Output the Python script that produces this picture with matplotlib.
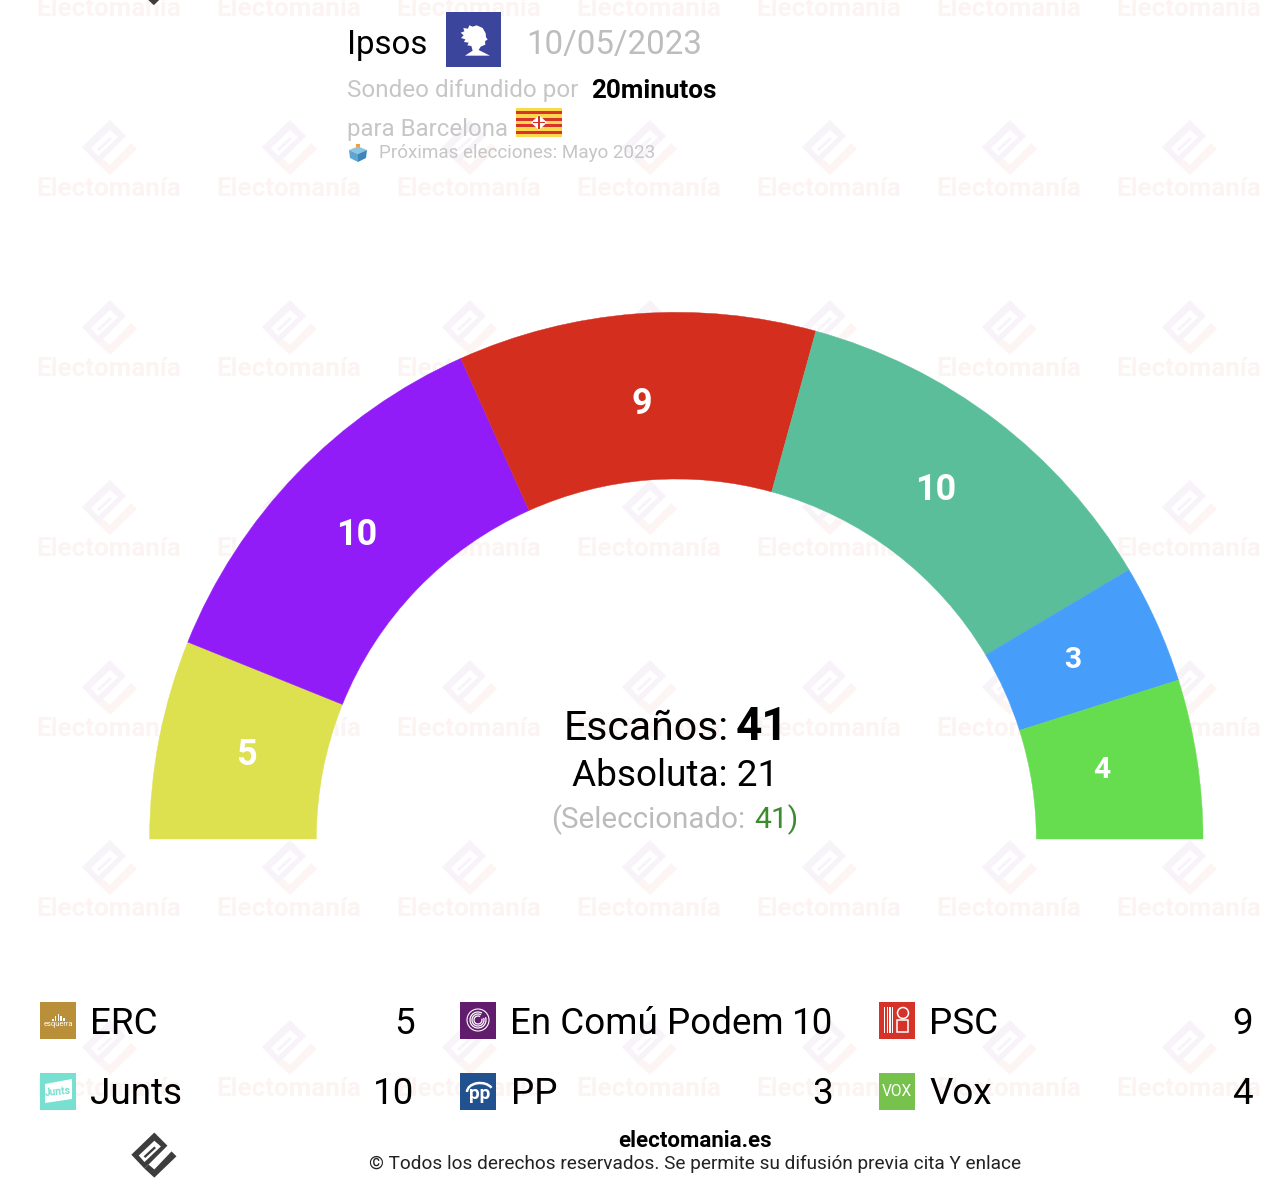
import numpy as np
import matplotlib
matplotlib.use('Agg')
import matplotlib.pyplot as plt
from matplotlib.patches import Wedge, Rectangle, Polygon, Circle, Ellipse, Arc

plt.rcParams['font.family'] = ['Roboto', 'DejaVu Sans']

# Datos del sondeo
parties = ['ERC', 'En Comú Podem', 'PSC', 'Junts', 'PP', 'Vox']
seats = [5, 10, 9, 10, 3, 4]
arc_colors = ['#DDE04F', '#911CF8', '#D42E1F', '#5ABE9A', '#479DFA', '#66DD4F']
icon_colors = ['#B98F3A', '#621C6E', '#D5332A', '#77E0D0', '#21518F', '#77C14D']
total_seats = 41
majority = 21
selected = 41
pollster = 'Ipsos'
poll_date = '10/05/2023'

W, H = 1288, 1190
CX, CY = 676.3, 839
R_OUT, R_IN = 526.7, 360

# popravki polozaja oznak v pikslih
LABEL_NUDGE = [(0, 0), (-3, -1), (3, 0), (0, -2), (4, 1), (0, 0)]

LOGO_BODY = [(1, -28), (17, -12), (-11, 16), (-27, -1)]
LOGO_HOLE = [(1, -18), (9, -11), (-11, 8), (-18, 0)]
LOGO_SLOT = [(1, -11), (3, -9), (-10, 3), (-12, 1)]
LOGO_CHECK = [(22, -5), (28, 1), (1, 27), (-11, 16), (-6, 11), (1, 17)]

HEAD = [(440, 76), (458, 84), (467, 100), (468, 112), (473, 118), (465, 124), (466, 134), (452, 140),
        (446, 150), (480, 167), (405, 167), (428, 152), (424, 138), (412, 136), (416, 128), (402, 126),
        (406, 118), (393, 114), (401, 106), (392, 98), (403, 94), (400, 84), (414, 86), (418, 76), (428, 80)]


def fs(px):
    # velikost pisave iz pikslov v pt
    return px * 0.72


def draw_logo(ax, x, y, scale, body, check, hole='white', z=1):
    pts = lambda p: [(x + a * scale, y + b * scale) for a, b in p]
    ax.add_patch(Polygon(pts(LOGO_BODY), fc=body, ec='none', zorder=z))
    ax.add_patch(Polygon(pts(LOGO_HOLE), fc=hole, ec='none', zorder=z))
    ax.add_patch(Polygon(pts(LOGO_SLOT), fc=body, ec='none', zorder=z))
    ax.add_patch(Polygon(pts(LOGO_CHECK), fc=check, ec='none', zorder=z))


def draw_watermark(ax):
    for i in range(7):
        dx = 180 * i
        for j in range(7):
            dy = 180 * j
            draw_logo(ax, 109 + dx, -32 + dy, 1, '#F7F3F9', '#FCF5F3')
            ax.text(109 + dx, 16 + dy, 'Electomanía', fontsize=fs(26), fontweight='bold',
                    color='#FCF4F2', ha='center', va='baseline', zorder=1)


def draw_arc(ax):
    cum = 0
    for n, col, nudge in zip(seats, arc_colors, LABEL_NUDGE):
        t0 = 180 + 180 * cum / sum(seats)
        t1 = 180 + 180 * (cum + n) / sum(seats)
        ax.add_patch(Wedge((CX, CY), R_OUT, t0, t1, width=R_OUT - R_IN, fc=col, ec=col, lw=0.3, zorder=2))
        mid = np.radians((t0 + t1) / 2)
        ax.text(CX - 3.8 + 434.5 * np.cos(mid) + nudge[0], CY - 5.5 + 434.5 * np.sin(mid) + nudge[1], str(n),
                color='white', fontsize=fs(30 if n < 5 else 36), fontweight='bold',
                ha='center', va='center_baseline', zorder=3)
        cum += n


def draw_icon(ax, name, x, y, col):
    # kvadrat 37x37 in poenostavljen znak stranke
    ax.add_patch(Rectangle((x, y), 36.5, 36.5, fc=col, ec='none', zorder=3))
    if name == 'ERC':
        for k, h in enumerate([2, 5, 7, 5, 3]):
            ax.add_patch(Rectangle((x + 12 + k * 2.8, y + 19 - h), 1.7, h, fc='white', ec='none', zorder=4))
        ax.text(x + 18.2, y + 24.5, 'esquerra', color='white', fontsize=fs(7.5), ha='center', va='baseline', zorder=4)
    elif name == 'En Comú Podem':
        for r in [16, 12, 8]:
            ax.add_patch(Arc((x + 18, y + 18), r, r, theta1=-20, theta2=300, ec='white', lw=0.9, zorder=4))
        ax.add_patch(Circle((x + 18, y + 18), 11, fc='none', ec='white', lw=0.8, zorder=4))
    elif name == 'PSC':
        for k in range(4):
            ax.add_patch(Rectangle((x + 5 + k * 2.7, y + 5), 1.4, 26, fc='white', ec='none', zorder=4))
        ax.add_patch(Ellipse((x + 24, y + 11), 11, 11, fc='none', ec='white', lw=1.1, zorder=4))
        ax.add_patch(Rectangle((x + 18, y + 18), 11, 12, fc='none', ec='white', lw=1.1, zorder=4))
    elif name == 'Junts':
        ax.add_patch(Polygon([(x + 5, y + 11), (x + 32, y + 6), (x + 32, y + 26), (x + 5, y + 30)],
                             fc='white', ec='none', zorder=4))
        ax.text(x + 18, y + 22.5, 'Junts', color=col, fontsize=fs(10.5), fontweight='bold',
                ha='center', va='baseline', rotation=5, zorder=5)
    elif name == 'PP':
        ax.text(x + 20, y + 26, 'pp', color='white', fontsize=fs(19), fontweight='bold', ha='center', va='baseline', zorder=4)
        ax.add_patch(Arc((x + 20, y + 19), 26, 18, theta1=180, theta2=340, ec='white', lw=1.8, zorder=4))
    elif name == 'Vox':
        ax.text(x + 18.2, y + 23.5, 'VOX', color='white', fontsize=fs(15.5), ha='center', va='baseline', zorder=4)


def draw_legend(ax):
    col_x = [40, 460, 879]
    col_right = [414.5, 833.5, 1252.5]
    row_y = [1002, 1073]
    baselines = [1033.5, 1104.5]
    for i, (name, n, col) in enumerate(zip(parties, seats, icon_colors)):
        r, c = divmod(i, 3)
        draw_icon(ax, name, col_x[c], row_y[r], col)
        ax.text(col_x[c] + 50.5, baselines[r], name, fontsize=fs(36.8), color='black', ha='left', va='baseline', zorder=4)
        ax.text(col_right[c], baselines[r], str(n), fontsize=fs(36.8), color='black', ha='right', va='baseline', zorder=4)


def draw_header(ax):
    grey = '#C6C6C6'
    ax.text(347.5, 54, pollster, fontsize=fs(33), color='black', va='baseline', zorder=4)
    ax.text(526.5, 54, poll_date, fontsize=fs(33), color='#BDBDBD', va='baseline', zorder=4)
    ax.text(347.5, 97.5, 'Sondeo difundido por', fontsize=fs(24.3), color=grey, va='baseline', zorder=4)
    ax.text(591.5, 98, '20minutos', fontsize=fs(26), color='black', fontweight='bold', va='baseline', zorder=4)
    ax.text(347.5, 136, 'para Barcelona', fontsize=fs(24), color=grey, va='baseline', zorder=4)
    ax.text(379, 158, 'Próximas elecciones: Mayo 2023', fontsize=fs(18.85), color=grey, va='baseline', zorder=4)

    # Ipsos
    ax.add_patch(Rectangle((446, 12), 55, 55, fc='#3B459C', ec='none', zorder=3))
    ax.add_patch(Polygon([(330 + a / 3, b / 3) for a, b in HEAD], fc='white', ec='none', zorder=4))

    # zastava Barcelone
    ax.add_patch(Rectangle((516.5, 108), 45.5, 29, fc='#FBD84C', ec='none', zorder=3))
    for k in [1, 3, 5, 7]:
        ax.add_patch(Rectangle((516.5, 108 + k * 3.22), 45.5, 3.22, fc='#D9322B', ec='none', zorder=4))
    ax.add_patch(Polygon([(531, 122.5), (539, 115), (547, 122.5), (539, 130)], fc='white', ec='none', zorder=5))
    ax.add_patch(Rectangle((538.2, 116), 1.6, 13, fc='#D9322B', ec='none', zorder=6))
    ax.add_patch(Rectangle((533, 121.7), 12, 1.6, fc='#D9322B', ec='none', zorder=6))

    # volilna zara
    ax.add_patch(Rectangle((356.5, 144), 4, 6, fc='#F0A040', ec='none', zorder=4))
    ax.add_patch(Polygon([(349, 150), (358, 146.5), (367, 150), (358, 154)], fc='#8CC4E2', ec='none', zorder=4))
    ax.add_patch(Polygon([(349, 150), (358, 154), (358, 162), (350, 158)], fc='#5BA7D2', ec='none', zorder=4))
    ax.add_patch(Polygon([(367, 150), (358, 154), (358, 162), (366, 158)], fc='#3F86B8', ec='none', zorder=4))


def draw_center(ax):
    ax.text(563.5, 740, 'Escaños:', fontsize=fs(41), color='black', va='baseline', zorder=4)
    ax.text(736, 740, str(total_seats), fontsize=fs(46), color='black', fontweight='bold', va='baseline', zorder=4)
    ax.text(675.5, 786, f'Absoluta: {majority}', fontsize=fs(37), color='black', ha='center', va='baseline', zorder=4)
    ax.text(551.5, 828.5, '(Seleccionado:', fontsize=fs(29.5), color='#BBBBBB', va='baseline', zorder=4)
    ax.text(799, 828.5, f'{selected})', fontsize=fs(30), color='#3E8A2E', ha='right', va='baseline', zorder=4)


def draw_footer(ax):
    ax.text(695.5, 1147, 'electomania.es', fontsize=fs(22.3), color='black', fontweight='bold', ha='center', va='baseline', zorder=4)
    ax.text(695.5, 1169, '© Todos los derechos reservados. Se permite su difusión previa cita Y enlace',
            fontsize=fs(19), color='#222222', ha='center', va='baseline', zorder=4)
    draw_logo(ax, 153.5, 1155.5, 0.82, '#3D3D3D', '#3D3D3D', z=4)
    draw_logo(ax, 153, -17, 0.82, '#3D3D3D', '#3D3D3D', z=4)


def main():
    fig = plt.figure(figsize=(W / 100, H / 100), dpi=100)
    ax = fig.add_axes([0, 0, 1, 1])
    ax.set_xlim(0, W)
    ax.set_ylim(H, 0)
    ax.axis('off')

    draw_watermark(ax)
    draw_arc(ax)
    draw_header(ax)
    draw_center(ax)
    draw_legend(ax)
    draw_footer(ax)

    fig.savefig('out.png', dpi=100)


if __name__ == "__main__":
    main()
